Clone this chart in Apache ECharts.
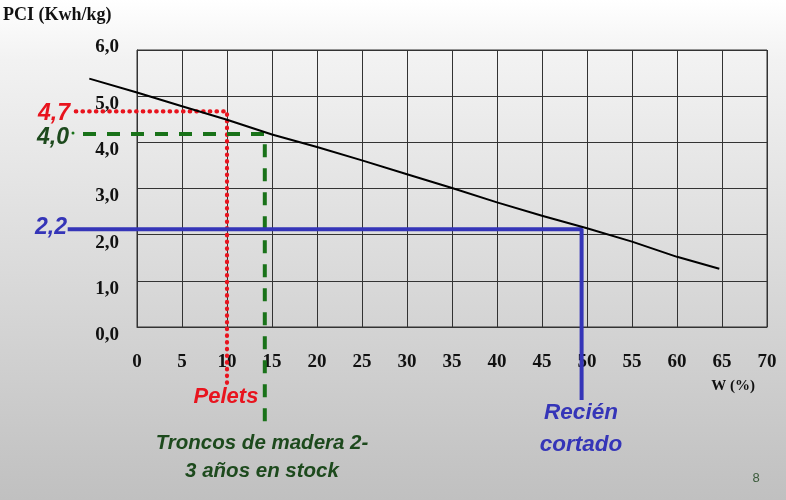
<!DOCTYPE html>
<html><head><meta charset="utf-8">
<script src="https://cdn.jsdelivr.net/npm/echarts@6/dist/echarts.min.js"></script>
<style>html,body{margin:0;padding:0;background:#fff;} #c{width:786px;height:500px;}</style>
</head><body><div id="c"></div>
<script>
// x-axis ticks (W %) and y-axis ticks (PCI kWh/kg)
const xTicks = [0, 5, 10, 15, 20, 25, 30, 35, 40, 45, 50, 55, 60, 65, 70];
const yTicks = [0, 1, 2, 3, 4, 5, 6];
// Curve PCI vs W (the drawn curve starts a little left of the frame)
const curveX = [-5.3, 0, 5, 10, 15, 20, 25, 30, 35, 40, 45, 50, 55, 60, 64.7];
const curveY = [5.38, 5.08, 4.78, 4.49, 4.17, 3.90, 3.61, 3.31, 3.01, 2.70, 2.41, 2.14, 1.85, 1.52, 1.26];
// Reference guide lines (x, y) — they run outside the frame to the labels
const peletsX = [-6.8, 10.0, 10.0];
const peletsY = [4.67, 4.67, -1.21];
const troncosX = [-6.0, 14.2, 14.2];
const troncosY = [4.18, 4.18, -2.14];
const recienX = [-7.7, 49.4, 49.4];
const recienY = [2.12, 2.12, -1.58];
const refLabels = ['4,7', '4,0', '2,2'];

const zip = (a, b) => a.map((v, i) => [v, b[i]]);
const fmt = v => v.toFixed(1).replace('.', ',');
const RED = '#e8141e', GREEN = '#197219', DKGREEN = '#1d4a1d', BLUE = '#3535b8';
const serif = '"Liberation Serif", "Times New Roman", serif';
const sans = '"Liberation Sans", Arial, sans-serif';

// Frame grid: x 0..70 over 630px, y 0..6 over 277px.
// Overlay grid with the same scale extended to x=-8 and y=-3 so guides can leave the frame.
const pxX = 630 / 70, pxY = 277 / 6;
const ovMinX = -8, ovMinY = -3;

const chart = echarts.init(document.getElementById('c'), null, {renderer: 'canvas'});
chart.setOption({
  animation: false,
  backgroundColor: {
    type: 'linear', x: 0, y: 0, x2: 0, y2: 1,
    colorStops: [
      {offset: 0, color: '#ffffff'},
      {offset: 0.12, color: '#f2f2f2'},
      {offset: 0.58, color: '#d8d8d8'},
      {offset: 1, color: '#c0c0c0'}
    ]
  },
  grid: [
    {left: 137, right: 19, top: 50, bottom: 173, show: true, borderColor: '#333', borderWidth: 1, backgroundColor: 'transparent'},
    {left: 137 + ovMinX * pxX, right: 19, top: 50, bottom: 173 + ovMinY * pxY, show: false}
  ],
  xAxis: [{
    type: 'value', gridIndex: 0, min: xTicks[0], max: xTicks[xTicks.length - 1], interval: 5,
    axisLine: {show: true, lineStyle: {color: '#333', width: 1}},
    axisTick: {show: false},
    splitLine: {show: true, lineStyle: {color: '#333', width: 1}},
    axisLabel: {margin: 26, color: '#111', fontFamily: serif, fontWeight: 'bold', fontSize: 19,
      formatter: v => String(v)}
  }, {
    type: 'value', gridIndex: 1, min: ovMinX, max: xTicks[xTicks.length - 1], show: false
  }],
  yAxis: [{
    type: 'value', gridIndex: 0, min: yTicks[0], max: yTicks[yTicks.length - 1], interval: 1,
    axisLine: {show: true, lineStyle: {color: '#333', width: 1}},
    axisTick: {show: false},
    splitLine: {show: true, lineStyle: {color: '#333', width: 1}},
    axisLabel: {margin: 18, color: '#111', fontFamily: serif, fontWeight: 'bold', fontSize: 19,
      verticalAlign: 'top', lineHeight: 16, showMaxLabel: false,
      formatter: fmt}
  }, {
    type: 'value', gridIndex: 1, min: ovMinY, max: yTicks[yTicks.length - 1], show: false
  }],
  series: [
    {type: 'line', xAxisIndex: 1, yAxisIndex: 1, data: zip(curveX, curveY), symbol: 'none', smooth: false,
      lineStyle: {color: '#000', width: 2}, z: 5},
    {type: 'line', xAxisIndex: 1, yAxisIndex: 1, data: zip(peletsX, peletsY), symbol: 'none',
      lineStyle: {color: RED, width: 4.2, type: [0.5, 6.2], cap: 'round'}, z: 4},
    {type: 'line', xAxisIndex: 1, yAxisIndex: 1, data: zip(troncosX, troncosY), symbol: 'none',
      lineStyle: {color: GREEN, width: 4, type: [13, 11]}, z: 4},
    {type: 'line', xAxisIndex: 1, yAxisIndex: 1, data: zip(recienX, recienY), symbol: 'none',
      lineStyle: {color: BLUE, width: 4}, z: 4}
  ],
  graphic: [
    {type: 'text', left: 3, top: 6, style: {text: 'PCI (Kwh/kg)', font: 'bold 18px ' + serif, fill: '#111'}},
    {type: 'text', x: 119, y: 47, style: {text: fmt(yTicks[yTicks.length - 1]), font: 'bold 19px ' + serif, fill: '#111', align: 'right', verticalAlign: 'middle'}},
    {type: 'text', x: 733, y: 386, style: {text: 'W (%)', font: 'bold 15px ' + serif, fill: '#111', align: 'center', verticalAlign: 'middle'}},
    {type: 'text', x: 70, y: 114, style: {text: refLabels[0], font: 'italic bold 23px ' + sans, fill: RED, align: 'right', verticalAlign: 'middle'}},
    {type: 'text', x: 69, y: 138, style: {text: refLabels[1], font: 'italic bold 23px ' + sans, fill: DKGREEN, align: 'right', verticalAlign: 'middle'}},
    {type: 'circle', shape: {cx: 73, cy: 133, r: 1.5}, style: {fill: GREEN}},
    {type: 'text', x: 67, y: 228, style: {text: refLabels[2], font: 'italic bold 23px ' + sans, fill: BLUE, align: 'right', verticalAlign: 'middle'}},
    {type: 'text', x: 226, y: 397, style: {text: 'Pelets', font: 'italic bold 22px ' + sans, fill: RED, align: 'center', verticalAlign: 'middle'}},
    {type: 'text', x: 262, y: 443, style: {text: 'Troncos de madera 2-', font: 'italic bold 20.5px ' + sans, fill: DKGREEN, align: 'center', verticalAlign: 'middle'}},
    {type: 'text', x: 262, y: 471, style: {text: '3 años en stock', font: 'italic bold 20.5px ' + sans, fill: DKGREEN, align: 'center', verticalAlign: 'middle'}},
    {type: 'text', x: 581, y: 413, style: {text: 'Recién', font: 'italic bold 22.5px ' + sans, fill: BLUE, align: 'center', verticalAlign: 'middle'}},
    {type: 'text', x: 581, y: 445, style: {text: 'cortado', font: 'italic bold 22.5px ' + sans, fill: BLUE, align: 'center', verticalAlign: 'middle'}},
    {type: 'text', x: 756, y: 478, style: {text: '8', font: '13px ' + sans, fill: '#3a5a3a', align: 'center', verticalAlign: 'middle'}}
  ]
});
</script>
</body></html>
